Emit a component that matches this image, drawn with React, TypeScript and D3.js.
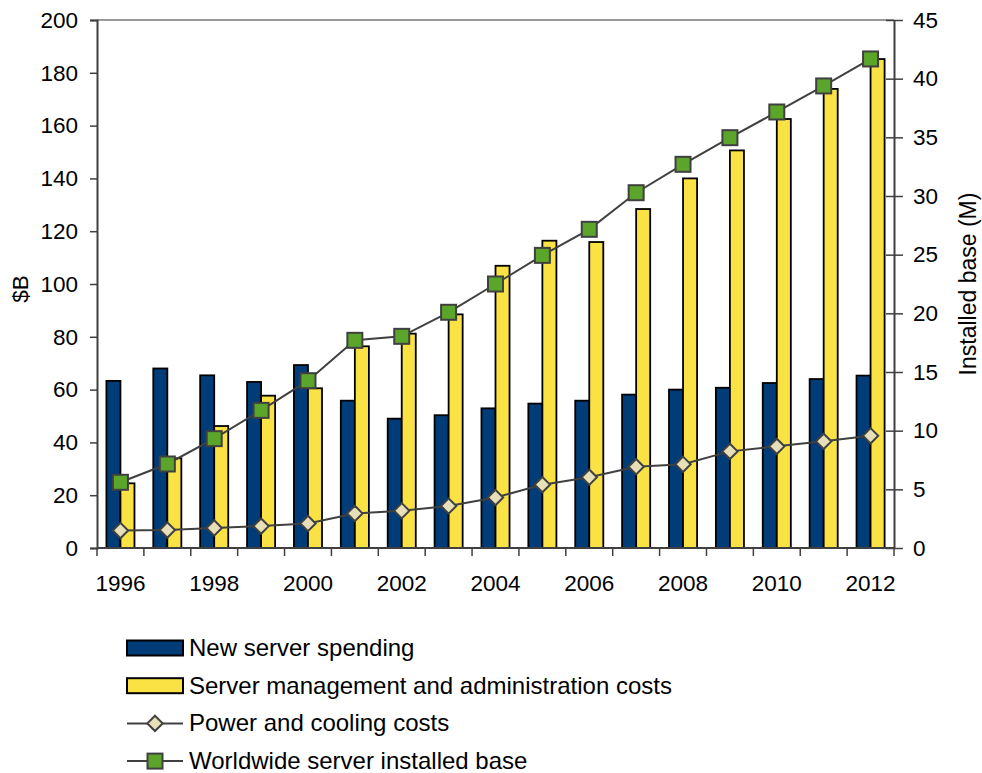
import React, { useEffect, useRef } from "react";
import * as d3 from "d3";

const years = [
  "1996", "1997", "1998", "1999", "2000", "2001", "2002", "2003", "2004",
  "2005", "2006", "2007", "2008", "2009", "2010", "2011", "2012",
];
const newServerSpending = [
  63.3, 68, 65.4, 62.9, 69.3, 55.8, 49, 50.3, 52.9, 54.7, 55.8, 58.1, 60, 60.7,
  62.5, 64, 65.3,
];
const mgmtCosts = [
  24.5, 34, 46.2, 57.7, 60.5, 76.4, 81.2, 88.5, 106.9, 116.4, 115.9, 128.4,
  140, 150.6, 162.5, 173.9, 185.2,
];
const powerCooling = [
  6.6, 6.8, 7.6, 8.3, 9.3, 13.1, 14.1, 15.9, 19.1, 24, 26.8, 30.8, 31.7, 36.6,
  38.5, 40.4, 42.5,
];
const installedBase = [
  5.6, 7.16, 9.32, 11.73, 14.26, 17.7, 18.04, 20.09, 22.5, 24.94, 27.16, 30.28,
  32.7, 34.97, 37.16, 39.38, 41.68,
];
const xTickLabels = ["1996", "1998", "2000", "2002", "2004", "2006", "2008", "2010", "2012"];
const leftTicks = [0, 20, 40, 60, 80, 100, 120, 140, 160, 180, 200];
const rightTicks = [0, 5, 10, 15, 20, 25, 30, 35, 40, 45];
const legendLabels = [
  "New server spending",
  "Server management and administration costs",
  "Power and cooling costs",
  "Worldwide server installed base",
];

const BLUE = "#003c78";
const YELLOW = "#fbe244";
const GREEN = "#5ba52a";
const BEIGE = "#e6dfb8";
const LINE = "#404040";
const FONT = "'Liberation Sans', Arial, sans-serif";
const FS = 22.5;

function App() {
  const svgRef = useRef<SVGSVGElement>(null);
  const width = 982;
  const height = 773;
  const left = 97;
  const right = 894;
  const top = 20;
  const bottom = 548;

  useEffect(() => {
    if (!svgRef.current) return;
    const svg = d3.select(svgRef.current);
    svg.selectAll("*").remove();

    const x = d3.scaleBand<string>().domain(years).range([left, right]).padding(0);
    const inner = d3
      .scaleBand<string>()
      .domain(["new", "mgmt"])
      .range([0, x.bandwidth()])
      .paddingInner(0)
      .paddingOuter(0.67);
    const yL = d3.scaleLinear().domain([0, 200]).range([bottom, top]);
    const yR = d3.scaleLinear().domain([0, 45]).range([bottom, top]);

    // top border
    svg
      .append("line")
      .attr("x1", left)
      .attr("x2", right)
      .attr("y1", top)
      .attr("y2", top)
      .attr("stroke", "#999")
      .attr("stroke-width", 2);

    // bars
    const groups = svg
      .append("g")
      .selectAll("g")
      .data(years)
      .enter()
      .append("g")
      .attr("transform", (d) => `translate(${x(d)},0)`);

    groups
      .append("rect")
      .attr("x", inner("new")!)
      .attr("width", inner.bandwidth())
      .attr("y", (_, i) => yL(newServerSpending[i]))
      .attr("height", (_, i) => bottom - yL(newServerSpending[i]))
      .attr("fill", BLUE)
      .attr("stroke", "#000")
      .attr("stroke-width", 1.8);

    groups
      .append("rect")
      .attr("x", inner("mgmt")!)
      .attr("width", inner.bandwidth())
      .attr("y", (_, i) => yL(mgmtCosts[i]))
      .attr("height", (_, i) => bottom - yL(mgmtCosts[i]))
      .attr("fill", YELLOW)
      .attr("stroke", "#000")
      .attr("stroke-width", 1.8);

    const cx = (d: string) => x(d)! + x.bandwidth() / 2;

    // power & cooling line (left axis)
    const powerLine = d3
      .line<number>()
      .x((_, i) => cx(years[i]))
      .y((d) => yL(d));
    svg
      .append("path")
      .attr("d", powerLine(powerCooling))
      .attr("fill", "none")
      .attr("stroke", LINE)
      .attr("stroke-width", 2);
    const diamond = d3.symbol().type(d3.symbolDiamond2).size(150);
    svg
      .append("g")
      .selectAll("path")
      .data(powerCooling)
      .enter()
      .append("path")
      .attr("d", diamond)
      .attr("transform", (d, i) => `translate(${cx(years[i])},${yL(d)})`)
      .attr("fill", BEIGE)
      .attr("stroke", LINE)
      .attr("stroke-width", 2);

    // installed base line (right axis)
    const baseLine = d3
      .line<number>()
      .x((_, i) => cx(years[i]))
      .y((d) => yR(d));
    svg
      .append("path")
      .attr("d", baseLine(installedBase))
      .attr("fill", "none")
      .attr("stroke", LINE)
      .attr("stroke-width", 2);
    svg
      .append("g")
      .selectAll("rect")
      .data(installedBase)
      .enter()
      .append("rect")
      .attr("x", (_, i) => cx(years[i]) - 7.5)
      .attr("y", (d) => yR(d) - 7.5)
      .attr("width", 15)
      .attr("height", 15)
      .attr("fill", GREEN)
      .attr("stroke", LINE)
      .attr("stroke-width", 2);

    // left axis
    const gL = svg
      .append("g")
      .attr("transform", `translate(${left},0)`)
      .call(d3.axisLeft(yL).tickValues(leftTicks).tickSize(7).tickPadding(12));
    gL.select(".domain").attr("stroke", LINE).attr("stroke-width", 2);
    gL.selectAll(".tick line").attr("stroke", LINE).attr("stroke-width", 1.5);
    gL.selectAll(".tick text")
      .attr("font-family", FONT)
      .attr("font-size", FS)
      .attr("fill", "#000");

    // right axis
    const gR = svg
      .append("g")
      .attr("transform", `translate(${right},0)`)
      .call(d3.axisRight(yR).tickValues(rightTicks).tickSizeInner(9).tickSizeOuter(0).tickPadding(10));
    gR.selectAll(".tick line").attr("x1", -8);
    gR.select(".domain").attr("stroke", LINE).attr("stroke-width", 2);
    gR.selectAll(".tick line").attr("stroke", LINE).attr("stroke-width", 1.5);
    gR.selectAll(".tick text")
      .attr("font-family", FONT)
      .attr("font-size", FS)
      .attr("fill", "#000");

    // bottom axis: ticks at category boundaries
    const gB = svg.append("g");
    gB.append("line")
      .attr("x1", left)
      .attr("x2", right)
      .attr("y1", bottom)
      .attr("y2", bottom)
      .attr("stroke", LINE)
      .attr("stroke-width", 2);
    const bounds = years.map((d) => x(d)!).concat([right]);
    gB.selectAll("line.tk")
      .data(bounds)
      .enter()
      .append("line")
      .attr("class", "tk")
      .attr("x1", (d) => d)
      .attr("x2", (d) => d)
      .attr("y1", bottom)
      .attr("y2", bottom + 8)
      .attr("stroke", LINE)
      .attr("stroke-width", 1.5);
    gB.selectAll("text")
      .data(xTickLabels)
      .enter()
      .append("text")
      .attr("x", (d) => cx(d))
      .attr("y", bottom + 43)
      .attr("text-anchor", "middle")
      .attr("font-family", FONT)
      .attr("font-size", FS)
      .text((d) => d);

    // axis titles
    svg
      .append("text")
      .attr("transform", `translate(28,289) rotate(-90)`)
      .attr("text-anchor", "middle")
      .attr("font-family", FONT)
      .attr("font-size", FS)
      .text("$B");
    svg
      .append("text")
      .attr("transform", `translate(976,${(top + bottom) / 2}) rotate(-90)`)
      .attr("text-anchor", "middle")
      .attr("font-family", FONT)
      .attr("font-size", 23)
      .text("Installed base (M)");

    // legend
    const legend = svg.append("g").attr("transform", "translate(127,648)");
    legendLabels.forEach((label, i) => {
      const row = legend.append("g").attr("transform", `translate(0,${i * 37.7})`);
      if (i < 2) {
        row
          .append("rect")
          .attr("x", 0)
          .attr("y", -7.5)
          .attr("width", 56)
          .attr("height", 15)
          .attr("fill", i === 0 ? BLUE : YELLOW)
          .attr("stroke", "#000")
          .attr("stroke-width", 2);
      } else {
        row
          .append("line")
          .attr("x1", 0)
          .attr("x2", 56)
          .attr("stroke", LINE)
          .attr("stroke-width", 2);
        if (i === 2) {
          row
            .append("path")
            .attr("d", diamond)
            .attr("transform", "translate(28,0)")
            .attr("fill", BEIGE)
            .attr("stroke", LINE)
            .attr("stroke-width", 2);
        } else {
          row
            .append("rect")
            .attr("x", 20.5)
            .attr("y", -7.5)
            .attr("width", 15)
            .attr("height", 15)
            .attr("fill", GREEN)
            .attr("stroke", LINE)
            .attr("stroke-width", 2);
        }
      }
      row
        .append("text")
        .attr("x", 62)
        .attr("y", 8)
        .attr("font-family", FONT)
        .attr("font-size", 24)
        .text(label);
    });
  }, []);

  return (
    <div style={{ position: "absolute", left: 0, top: 0 }}>
      <svg ref={svgRef} width={width} height={height} style={{ display: "block", background: "#fff" }}></svg>
    </div>
  );
}

export default App;
